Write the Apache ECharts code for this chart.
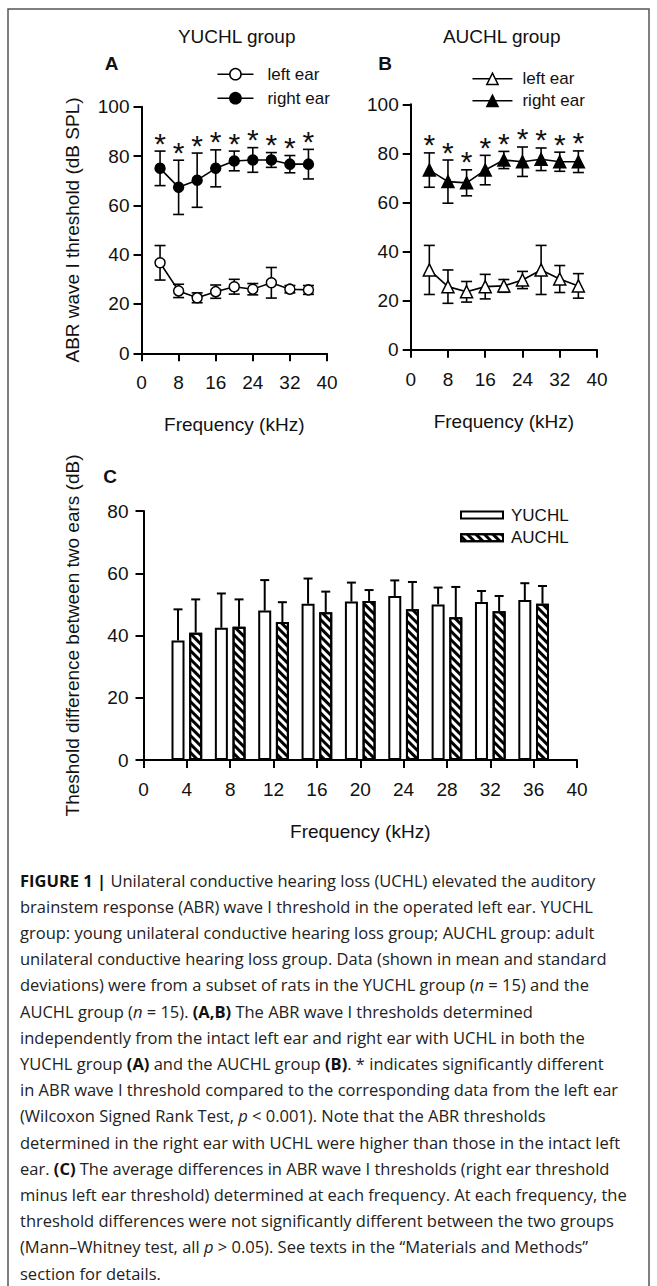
<!DOCTYPE html>
<html>
<head>
<meta charset="utf-8">
<script src="https://cdn.jsdelivr.net/npm/echarts@6/dist/echarts.min.js"></script>
<style>
  html, body { margin: 0; padding: 0; background: #fff; }
  #fig { width: 657px; height: 1286px; }
</style>
</head>
<body>
<div id="fig"></div>
<script>
// Test frequencies (kHz)
const frequencies = [4, 8, 12, 16, 20, 24, 28, 32, 36];

// (A) YUCHL group, ABR wave I threshold (dB SPL), mean and SD
const yuchlLeftMean  = [36.7, 25.3, 22.5, 25.0, 27.0, 26.0, 28.6, 26.0, 25.7];
const yuchlLeftSD    = [7.0, 2.7, 2.0, 2.7, 3.0, 2.3, 6.2, 1.5, 1.8];
const yuchlRightMean = [75.0, 67.3, 70.2, 75.0, 78.0, 78.4, 78.4, 76.7, 76.7];
const yuchlRightSD   = [7.0, 11.0, 11.0, 7.5, 4.0, 5.0, 3.0, 3.5, 6.0];

// (B) AUCHL group
const auchlLeftMean  = [32.5, 25.7, 23.6, 25.7, 26.0, 28.4, 32.5, 28.8, 26.0];
const auchlLeftSD    = [10.0, 6.8, 4.2, 5.0, 2.6, 3.5, 10.0, 5.5, 5.0];
const auchlRightMean = [73.2, 68.5, 68.0, 73.2, 77.3, 76.6, 77.6, 76.6, 76.6];
const auchlRightSD   = [7.0, 8.8, 5.3, 6.0, 3.5, 6.0, 4.6, 3.9, 4.4];

// Right vs left ear significance marks
const significanceA = ['*', '*', '*', '*', '*', '*', '*', '*', '*'];
const significanceB = ['*', '*', '*', '*', '*', '*', '*', '*', '*'];

// (C) threshold difference between two ears (dB), mean and SD
const diffYuchlMean = [38.4, 42.5, 48.0, 50.2, 50.9, 52.7, 50.0, 50.8, 51.4];
const diffYuchlSD   = [10.0, 11.0, 9.8, 8.1, 6.1, 5.0, 5.4, 3.5, 5.4];
const diffAuchlMean = [40.9, 42.8, 44.3, 47.5, 51.1, 48.4, 45.9, 47.8, 50.2];
const diffAuchlSD   = [10.7, 8.8, 6.4, 6.6, 3.5, 8.8, 9.7, 4.9, 5.7];

const captionLines = [
  '{b|FIGURE 1 |} Unilateral conductive hearing loss (UCHL) elevated the auditory',
  'brainstem response (ABR) wave I threshold in the operated left ear. YUCHL',
  'group: young unilateral conductive hearing loss group; AUCHL group: adult',
  'unilateral conductive hearing loss group. Data (shown in mean and standard',
  'deviations) were from a subset of rats in the YUCHL group ({i|n} = 15) and the',
  'AUCHL group ({i|n} = 15). {b|(A,B)} The ABR wave I thresholds determined',
  'independently from the intact left ear and right ear with UCHL in both the',
  'YUCHL group {b|(A)} and the AUCHL group {b|(B)}. * indicates significantly different',
  'in ABR wave I threshold compared to the corresponding data from the left ear',
  '(Wilcoxon Signed Rank Test, {i|p} < 0.001). Note that the ABR thresholds',
  'determined in the right ear with UCHL were higher than those in the intact left',
  'ear. {b|(C)} The average differences in ABR wave I thresholds (right ear threshold',
  'minus left ear threshold) determined at each frequency. At each frequency, the',
  'threshold differences were not significantly different between the two groups',
  '(Mann\u2013Whitney test, all {i|p} > 0.05). See texts in the \u201cMaterials and Methods\u201d',
  'section for details.'
];

const FONT = 'Liberation Sans, Arial, sans-serif';
const CAPTION_FONT = 'Open Sans';
const INK = '#111';

const pairs = (means) => frequencies.map((f, i) => [f, means[i]]);

// Mean +/- SD bars; upperOnly draws the upward half only (bar chart)
function errorBarSeries(axisIdx, means, sds, opts) {
  const o = Object.assign({ offset: 0, cap: 11, width: 1.6, upperOnly: false, marks: null }, opts || {});
  const data = frequencies.map((f, i) => [f, o.upperOnly ? means[i] : means[i] - sds[i], means[i] + sds[i]]);
  return {
    type: 'custom',
    xAxisIndex: axisIdx,
    yAxisIndex: axisIdx,
    z: o.z || 1,
    silent: true,
    data: data,
    renderItem: function (params, api) {
      const x = api.value(0);
      const lo = api.coord([x, api.value(1)]);
      const hi = api.coord([x, api.value(2)]);
      const cx = lo[0] + o.offset;
      const h = o.cap / 2;
      const st = { stroke: '#000', lineWidth: o.width };
      const children = [
        { type: 'line', shape: { x1: cx, y1: lo[1], x2: cx, y2: hi[1] }, style: st },
        { type: 'line', shape: { x1: cx - h, y1: hi[1], x2: cx + h, y2: hi[1] }, style: st }
      ];
      if (!o.upperOnly) {
        children.push({ type: 'line', shape: { x1: cx - h, y1: lo[1], x2: cx + h, y2: lo[1] }, style: st });
      }
      if (o.marks && o.marks[params.dataIndex]) {
        children.push({
          type: 'text',
          style: {
            text: o.marks[params.dataIndex], x: cx, y: hi[1] - 8,
            fill: INK, fontSize: 30, fontFamily: FONT,
            align: 'center', verticalAlign: 'middle'
          }
        });
      }
      return { type: 'group', children: children };
    }
  };
}

function axis(gridIndex, min, max, interval, name, extra) {
  return Object.assign({
    gridIndex: gridIndex,
    type: 'value',
    min: min, max: max, interval: interval,
    name: name,
    nameLocation: 'middle',
    nameTextStyle: { fontFamily: FONT, fontSize: 19, color: INK },
    axisLine: { show: true, onZero: false, lineStyle: { color: '#000', width: 2 } },
    axisTick: { show: true, length: 8, lineStyle: { color: '#000', width: 2 } },
    axisLabel: { fontFamily: FONT, fontSize: 19, color: INK, margin: 12 },
    splitLine: { show: false }
  }, extra || {});
}

const stripName = (n) => n.replace(/^(YUCHL|AUCHL) /, '');

function lineLegend(name, left, centerY, width, pad) {
  return {
    data: [{ name: name, itemStyle: { borderWidth: 1.5 } }],
    left: left, top: centerY - 7, padding: 0,
    itemWidth: width, itemHeight: 14,
    selectedMode: false,
    lineStyle: { width: 1.5, color: '#000' },
    formatter: stripName,
    textStyle: { fontFamily: FONT, fontSize: 17, color: INK, padding: [0, 0, 0, pad] }
  };
}

function barLegend(name, left, centerY) {
  return {
    data: [name],
    left: left, top: centerY - 3.5, padding: 0,
    itemWidth: 42, itemHeight: 7,
    icon: 'rect',
    selectedMode: false,
    itemStyle: { borderWidth: 2, borderColor: '#000' },
    textStyle: { fontFamily: FONT, fontSize: 17, color: INK, padding: [0, 0, 0, 3] }
  };
}

const openStyle = (sym, size) => ({ symbol: sym, symbolSize: size, itemStyle: { color: '#fff', borderColor: '#000', borderWidth: 1.5 } });
const filledStyle = (sym, size) => ({ symbol: sym, symbolSize: size, itemStyle: { color: '#000', borderColor: '#000', borderWidth: 1.5 } });

function lineSeries(name, axisIdx, means, markStyle) {
  return Object.assign({
    type: 'line', name: name,
    xAxisIndex: axisIdx, yAxisIndex: axisIdx,
    data: pairs(means),
    lineStyle: { color: '#000', width: 1.6 },
    z: 3
  }, markStyle);
}

const BAR_W = 13;
const BAR_GAP = 0.36;
const BAR_OFFSET = (BAR_W + BAR_W * BAR_GAP) / 2;

const text = (t, x, y, size, weight) => ({
  type: 'text', x: x, y: y, silent: true,
  style: { text: t, fontFamily: FONT, fontSize: size, fontWeight: weight || 'normal', fill: INK, align: 'center', verticalAlign: 'middle' }
});

// Caption: one size for all lines, chosen so the widest line fills the text column
const CAPTION_LEFT = 20;
const CAPTION_WIDTH = 608;
function captionSize() {
  const ctx = document.createElement('canvas').getContext('2d');
  const fontFor = (tag) => (tag === 'b' ? 'bold ' : tag === 'i' ? 'italic ' : '') + '16px "' + CAPTION_FONT + '"';
  let widest = 0;
  captionLines.forEach((line) => {
    let w = 0, last = 0, m;
    const re = /\{(b|i)\|([^}]*)\}/g;
    while ((m = re.exec(line)) !== null) {
      ctx.font = fontFor(''); w += ctx.measureText(line.slice(last, m.index)).width;
      ctx.font = fontFor(m[1]); w += ctx.measureText(m[2]).width;
      last = re.lastIndex;
    }
    ctx.font = fontFor(''); w += ctx.measureText(line.slice(last)).width;
    widest = Math.max(widest, w);
  });
  return Math.floor(16 * CAPTION_WIDTH / widest * 10) / 10;
}
const capSize = captionSize();

const graphics = [
  { type: 'rect', silent: true, shape: { x: 8, y: 9, width: 641, height: 1320 }, style: { fill: 'none', stroke: '#555', lineWidth: 1.5 } },
  text('YUCHL group', 236.7, 36.7, 19),
  text('AUCHL group', 501.7, 36, 19),
  text('A', 111.7, 63, 19, 'bold'),
  text('B', 385, 63, 19, 'bold'),
  text('C', 110, 476.7, 19, 'bold')
];

captionLines.forEach((line, i) => {
  graphics.push({
    type: 'text', x: CAPTION_LEFT, y: 880 + i * 26.2, silent: true,
    style: {
      text: line, fontFamily: CAPTION_FONT, fontSize: capSize, fill: '#222',
      align: 'left', verticalAlign: 'middle',
      rich: {
        b: { fontFamily: CAPTION_FONT, fontSize: capSize, fontWeight: 'bold', fill: '#111' },
        i: { fontFamily: CAPTION_FONT, fontSize: capSize, fontStyle: 'italic', fill: '#222' }
      }
    }
  });
});

const option = {
  animation: false,
  backgroundColor: '#fff',
  grid: [
    { left: 141.5, top: 106.7, width: 185.5, height: 246.6, outerBoundsMode: 'none' },
    { left: 410.7, top: 104.3, width: 186.3, height: 245.4, outerBoundsMode: 'none' },
    { left: 143.5, top: 511, width: 433.5, height: 249, outerBoundsMode: 'none' }
  ],
  xAxis: [
    axis(0, 0, 40, 8, 'Frequency (kHz)', { nameGap: 62, axisLabel: { fontFamily: FONT, fontSize: 19, color: INK, margin: 20 } }),
    axis(1, 0, 40, 8, 'Frequency (kHz)', { nameGap: 62, axisLabel: { fontFamily: FONT, fontSize: 19, color: INK, margin: 20 } }),
    axis(2, 0, 40, 4, 'Frequency (kHz)', { nameGap: 62, axisLabel: { fontFamily: FONT, fontSize: 19, color: INK, margin: 20 } })
  ],
  yAxis: [
    axis(0, 0, 100, 20, 'ABR wave I threshold (dB SPL)', { nameRotate: 90, nameGap: 60 }),
    axis(1, 0, 100, 20, '', {}),
    axis(2, 0, 80, 20, 'Theshold difference between two ears (dB)', { nameRotate: 90, nameGap: 62, axisLabel: { fontFamily: FONT, fontSize: 19, color: INK, margin: 15 } })
  ],
  legend: [
    lineLegend('YUCHL left ear', 216.7, 72.7, 36, 9),
    lineLegend('YUCHL right ear', 216.7, 96.7, 36, 9),
    lineLegend('AUCHL left ear', 471.7, 77.3, 40, 5),
    lineLegend('AUCHL right ear', 471.7, 99.3, 40, 5),
    barLegend('YUCHL', 460, 510),
    barLegend('AUCHL', 460, 532.7)
  ],
  graphic: graphics,
  series: [
    // Panel A
    errorBarSeries(0, yuchlLeftMean, yuchlLeftSD),
    errorBarSeries(0, yuchlRightMean, yuchlRightSD, { marks: significanceA }),
    lineSeries('YUCHL left ear', 0, yuchlLeftMean, openStyle('circle', 10)),
    lineSeries('YUCHL right ear', 0, yuchlRightMean, filledStyle('circle', 10)),
    // Panel B
    errorBarSeries(1, auchlLeftMean, auchlLeftSD),
    errorBarSeries(1, auchlRightMean, auchlRightSD, { marks: significanceB }),
    lineSeries('AUCHL left ear', 1, auchlLeftMean, openStyle('triangle', 12)),
    lineSeries('AUCHL right ear', 1, auchlRightMean, filledStyle('triangle', 12)),
    // Panel C
    {
      type: 'bar', name: 'YUCHL', xAxisIndex: 2, yAxisIndex: 2,
      data: pairs(diffYuchlMean),
      barWidth: BAR_W, barGap: (BAR_GAP * 100) + '%',
      itemStyle: { color: '#fff', borderColor: '#000', borderWidth: 2 },
      z: 2
    },
    {
      type: 'bar', name: 'AUCHL', xAxisIndex: 2, yAxisIndex: 2,
      data: pairs(diffAuchlMean),
      barWidth: BAR_W, barGap: (BAR_GAP * 100) + '%',
      itemStyle: {
        color: '#fff', borderColor: '#000', borderWidth: 2,
        decal: { symbol: 'rect', symbolSize: 1, color: '#000', dashArrayX: [1, 0], dashArrayY: [2.2, 2.3], rotation: Math.PI / 4 }
      },
      z: 2
    },
    errorBarSeries(2, diffYuchlMean, diffYuchlSD, { offset: -BAR_OFFSET, cap: 9, width: 2, upperOnly: true, z: 3 }),
    errorBarSeries(2, diffAuchlMean, diffAuchlSD, { offset: BAR_OFFSET, cap: 9, width: 2, upperOnly: true, z: 3 })
  ]
};

const chart = echarts.init(document.getElementById('fig'), null, { renderer: 'svg', width: 657, height: 1286 });
chart.setOption(option);
</script>
</body>
</html>
